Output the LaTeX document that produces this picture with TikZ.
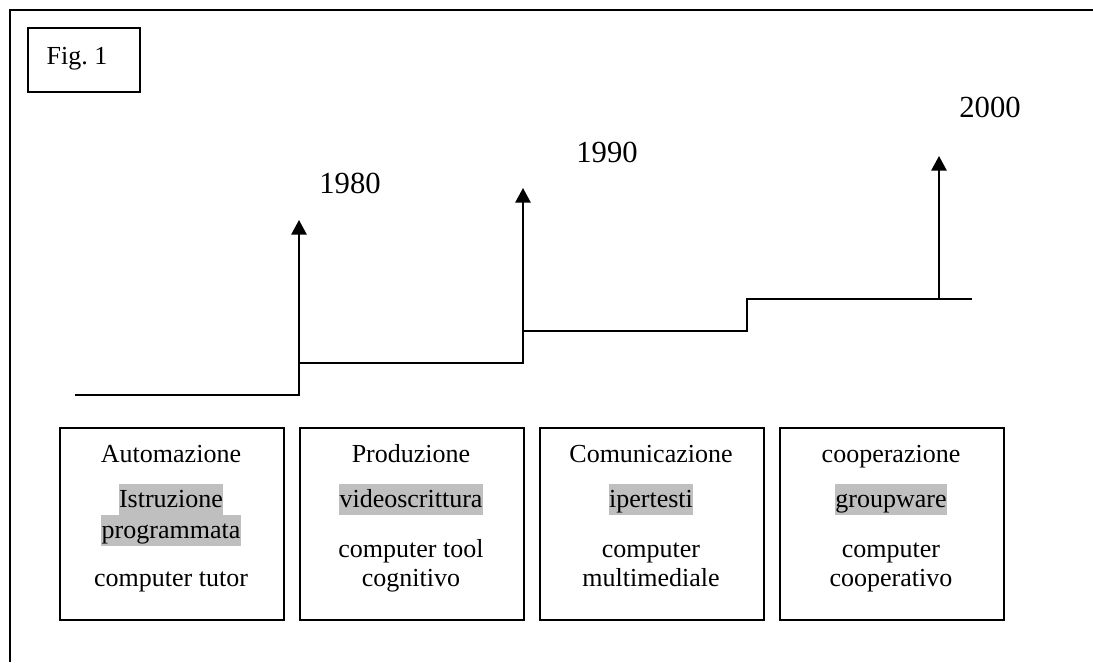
\documentclass[tikz,border=0pt]{standalone}
\usepackage{fontspec}
\setmainfont{Liberation Serif}
\usetikzlibrary{arrows.meta}
\begin{document}
\begin{tikzpicture}[x=0.75pt,y=-0.75pt,
  frame/.style={line width=1.6pt},
  stageline/.style={line width=1.35pt},
  tip/.style={-{Triangle[width=11.5pt,length=11pt]}},
  era/.style={draw, line width=1.2pt, minimum width=168pt, minimum height=144pt, inner sep=0pt, anchor=north west},
  figbox/.style={draw, line width=1.2pt, minimum width=84pt, minimum height=48pt, inner sep=0pt, anchor=north west},
  txt/.style={anchor=base, inner sep=0pt, font=\fontsize{19.5}{23}\selectfont},
  hl/.style={txt, fill=black!25, inner xsep=0.3pt, inner ysep=0pt, text height=17.25pt, text depth=6pt},
  year/.style={anchor=base, inner sep=0pt, font=\fontsize{23}{27}\selectfont}]
\useasboundingbox (0,0) rectangle (1093,662);

% outer frame (only top and left edges visible)
\draw[frame] (1093,10) -- (10,10) -- (10,662);

% Fig. 1 box
\node[figbox] (fig) at (27,27) {};
\node[txt] (figt) at (77,64) {Fig.\ 1};

% step timeline
\coordinate (s0) at (75,395);
\coordinate (s1) at (299,395);
\coordinate (s1t) at (299,363);
\coordinate (s2) at (523,363);
\coordinate (s2t) at (523,331);
\coordinate (s3) at (747,331);
\coordinate (s3t) at (747,299);
\coordinate (s4) at (972,299);
\coordinate (a1b) at (299,395);
\coordinate (a1) at (299,220);
\coordinate (a2b) at (523,363);
\coordinate (a2) at (523,188);
\coordinate (a3b) at (939,299);
\coordinate (a3) at (939,156);
\draw[stageline] (s0) -- (s1) -- (s1t) -- (s2) -- (s2t) -- (s3) -- (s3t) -- (s4);
\draw[stageline,tip] (a1b) -- (a1);
\draw[stageline,tip] (a2b) -- (a2);
\draw[stageline,tip] (a3b) -- (a3);

% years
\node[year] (y1980) at (350,193) {1980};
\node[year] (y1990) at (607,162) {1990};
\node[year] (y2000) at (990,117) {2000};

% era boxes
\node[era] (b1) at (59,427) {};
\node[era] (b2) at (299,427) {};
\node[era] (b3) at (539,427) {};
\node[era] (b4) at (779,427) {};

% box 1
\node[txt] (b1l1) at (171,462) {Automazione};
\node[hl]  (b1l2) at (171,507) {Istruzione};
\node[hl]  (b1l3) at (171,538) {programmata};
\node[txt] (b1l4) at (171,586) {computer tutor};

% box 2
\node[txt] (b2l1) at (411,462) {Produzione};
\node[hl]  (b2l2) at (411,507) {videoscrittura};
\node[txt] (b2l3) at (411,557) {computer tool};
\node[txt] (b2l4) at (411,586) {cognitivo};

% box 3
\node[txt] (b3l1) at (651,462) {Comunicazione};
\node[hl]  (b3l2) at (651,507) {ipertesti};
\node[txt] (b3l3) at (651,557) {computer};
\node[txt] (b3l4) at (651,586) {multimediale};

% box 4
\node[txt] (b4l1) at (891,462) {cooperazione};
\node[hl]  (b4l2) at (891,507) {groupware};
\node[txt] (b4l3) at (891,557) {computer};
\node[txt] (b4l4) at (891,586) {cooperativo};
\end{tikzpicture}
\end{document}
